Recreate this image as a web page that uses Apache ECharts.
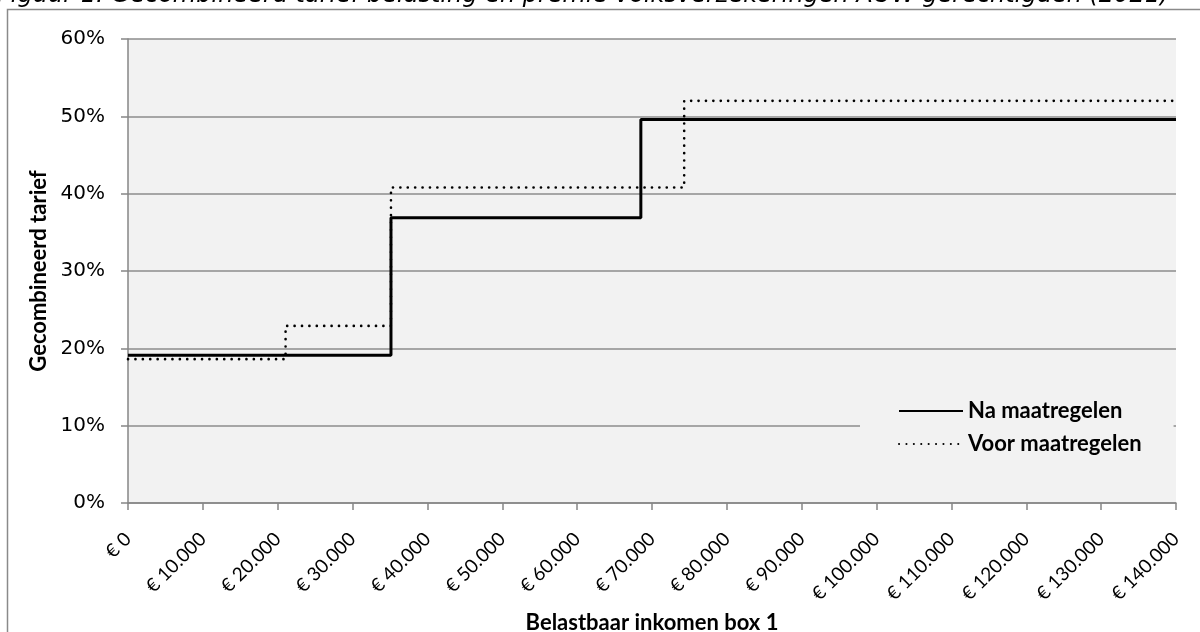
<!DOCTYPE html>
<html>
<head>
<meta charset="utf-8">
<script src="https://cdn.jsdelivr.net/npm/echarts@6/dist/echarts.min.js"></script>
<style>
html,body{margin:0;padding:0;background:#fff;}
#chart{width:1200px;height:632px;}
</style>
</head>
<body>
<div id="chart"></div>
<script>
const titleText = 'Figuur 1: Gecombineerd tarief belasting en premie volksverzekeringen AOW-gerechtigden (2021)';
const seriesNames = ['Na maatregelen', 'Voor maatregelen'];
// income thresholds (euro) and combined rates (%) per bracket
const naBreaks = [0, 35130, 68510, 140000];
const naRates = [19.1, 36.9, 49.6];
const voorBreaks = [0, 21050, 35130, 74300, 140000];
const voorRates = [18.6, 22.9, 40.8, 52.0];
const xAxisName = 'Belastbaar inkomen box 1';
const yAxisName = 'Gecombineerd tarief';

function stepData(breaks, rates) {
  return breaks.map((b, i) => [b, rates[Math.min(i, rates.length - 1)]]);
}
function euro(v) {
  return '€ ' + String(v).replace(/\B(?=(\d{3})+(?!\d))/g, '.');
}

const chart = echarts.init(document.getElementById('chart'));
chart.setOption({
  animation: false,
  backgroundColor: '#fff',
  graphic: [
    {type: 'rect', z: -10, shape: {x: 7.5, y: 9.5, width: 1400, height: 800},
     style: {fill: 'none', stroke: '#8a8a8a', lineWidth: 1.5}},
    {type: 'text', left: -3, top: -16,
     style: {text: titleText, font: 'italic 24px "DejaVu Sans"', fill: '#000'}}
  ],
  grid: {left: 128, right: 24, top: 39, bottom: 129, show: true,
         outerBoundsMode: 'none', containLabel: false,
         backgroundColor: '#f2f2f2', borderWidth: 0},
  legend: {
    left: 860, top: 378,
    orient: 'vertical',
    backgroundColor: '#f2f2f2',
    padding: [22, 32, 22, 38],
    itemWidth: 64, itemHeight: 14, itemGap: 11,
    itemStyle: {opacity: 0},
    textStyle: {fontFamily: 'Lato', fontWeight: 'bold', fontSize: 22, color: '#000'},
    data: seriesNames
  },
  xAxis: {
    type: 'value', min: 0, max: 140000, interval: 10000,
    name: xAxisName, nameLocation: 'middle', nameGap: 109,
    nameTextStyle: {fontFamily: 'Lato', fontWeight: 'bold', fontSize: 22, color: '#000'},
    axisLine: {show: true, lineStyle: {color: '#868686', width: 1.5}},
    axisTick: {show: true, length: 7, lineStyle: {color: '#868686', width: 1.5}},
    splitLine: {show: false},
    axisLabel: {rotate: 45, margin: 33, fontFamily: 'Lato', fontSize: 19, color: '#000',
                formatter: euro}
  },
  yAxis: {
    type: 'value', min: 0, max: 60, interval: 10,
    name: yAxisName, nameLocation: 'middle', nameGap: 70,
    nameTextStyle: {fontFamily: 'Lato', fontWeight: 'bold', fontSize: 22, color: '#000'},
    axisLine: {show: true, lineStyle: {color: '#868686', width: 1.5}},
    axisTick: {show: true, length: 7, lineStyle: {color: '#868686', width: 1.5}},
    splitLine: {show: true, lineStyle: {color: '#8c8c8c', width: 1.5}},
    axisLabel: {margin: 23, fontFamily: 'DejaVu Sans', fontSize: 20, color: '#000',
                formatter: '{value}%'}
  },
  series: [
    {name: seriesNames[0], type: 'line', step: 'end', symbol: 'none',
     data: stepData(naBreaks, naRates),
     lineStyle: {color: '#000', width: 3}, itemStyle: {color: '#000'}, z: 3},
    {name: seriesNames[1], type: 'line', step: 'end', symbol: 'none',
     data: stepData(voorBreaks, voorRates),
     lineStyle: {color: '#000', width: 2.6, type: [0.1, 7.3], cap: 'round'},
     itemStyle: {color: '#000'}, z: 2}
  ]
});
</script>
</body>
</html>
